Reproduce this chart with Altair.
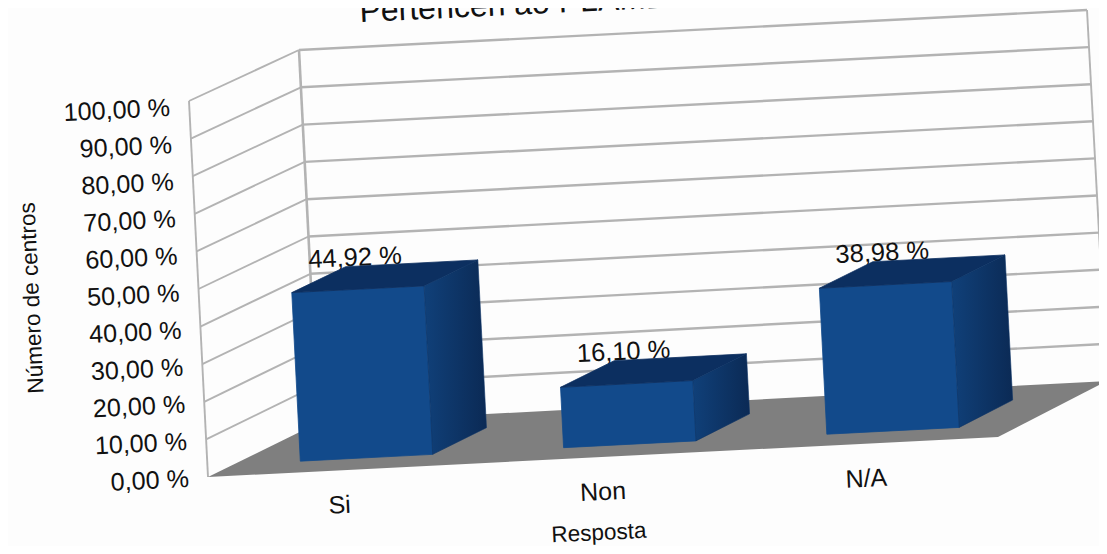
import altair as alt

categories = ["Si", "Non", "N/A"]
values = [44.92, 16.10, 38.98]
value_labels = ["44,92 %", "16,10 %", "38,98 %"]
tick_values = [0, 10, 20, 30, 40, 50, 60, 70, 80, 90, 100]
tick_labels = ["0,00 %", "10,00 %", "20,00 %", "30,00 %", "40,00 %", "50,00 %",
               "60,00 %", "70,00 %", "80,00 %", "90,00 %", "100,00 %"]
title_text = "Pertencen ao PLAMBE"
x_title = "Resposta"
y_title = "Número de centros"

# picture of the 3D box: corners as (u across, v value, d depth)
CORNERS = {
    (0, 0, 0): (208, 477), (1, 0, 0): (998, 437),
    (0, 0, 1): (318, 423), (1, 0, 1): (1107, 381),
    (0, 100, 0): (189, 101), (1, 100, 0): (979, 62),
    (0, 100, 1): (299, 50), (1, 100, 1): (1087, 10),
}
BAR_HALF = 0.0838
BAR_SHIFT = 0.002
D0, D1 = 0.23, 0.72
TILT = 357.3
W, H = 1091, 538


def P(u, v, d):
    t = v / 100
    out = [0.0, 0.0]
    for (cu, cv, cd), xy in CORNERS.items():
        w = (u if cu else 1 - u) * (t if cv else 1 - t) * (d if cd else 1 - d)
        out[0] += w * xy[0]
        out[1] += w * xy[1]
    return out


def poly(points):
    return {"type": "Feature", "properties": {},
            "geometry": {"type": "Polygon", "coordinates": [points + [points[0]]]}}


def line(points):
    return {"type": "Feature", "properties": {},
            "geometry": {"type": "LineString", "coordinates": points}}


def geo(features):
    return alt.InlineData(values={"type": "FeatureCollection", "features": features},
                          format=alt.DataFormat(type="json", property="features"))


proj = alt.Projection(type="identity", scale=1, translate=[-8, -8])


def shape(features, **mark):
    return alt.Chart(geo(features)).mark_geoshape(**mark).project(**proj.to_dict())


fronts, tops, sides = [], [], []
for i, v in enumerate(values):
    c = (i + 0.5) / 3 + BAR_SHIFT
    a, b = c - BAR_HALF, c + BAR_HALF
    fronts.append(poly([P(a, 0, D0), P(b, 0, D0), P(b, v, D0), P(a, v, D0)]))
    tops.append(poly([P(a, v, D0), P(b, v, D0), P(b, v, D1), P(a, v, D1)]))
    sides.append(poly([P(b, 0, D0), P(b, 0, D1), P(b, v, D1), P(b, v, D0)]))

left_grid = [line([P(0, t, 0), P(0, t, 1)]) for t in tick_values[1:]]
back_grid = [line([P(0, t, 1), P(1, t, 1)]) for t in tick_values[1:]]
edges = [line([P(0, 0, 0), P(0, 100, 0)]), line([P(1, 0, 1), P(1, 100, 1)])]
back_edge = [line([P(0, 0, 1), P(0, 100, 1)])]

GRID = "#b3b3b3"
layers = [
    shape(left_grid, filled=False, stroke=GRID, strokeWidth=1.9),
    shape(back_grid, filled=False, stroke=GRID, strokeWidth=2.4),
    shape(edges, filled=False, stroke=GRID, strokeWidth=1.9),
    shape(back_edge, filled=False, stroke=GRID, strokeWidth=2.6),
    shape([poly([P(0, 0, 0), P(1, 0, 0), P(1, 0, 1), P(0, 0, 1)])], fill="#7f7f7f", stroke=None),
]

X = alt.X("x:Q", scale=alt.Scale(domain=[8, 8 + W], range=[0, W]), axis=None)
Y = alt.Y("y:Q", scale=alt.Scale(domain=[8, 8 + H], range=[0, H]), axis=None)


def text(rows, angle, size, align="center", baseline="middle"):
    return alt.Chart(alt.Data(values=rows)).mark_text(
        angle=angle, fontSize=size, font="Liberation Sans", color="#111111",
        align=align, baseline=baseline).encode(x=X, y=Y, text="t:N")


def at(pt, t, dx=0, dy=0):
    return {"x": pt[0] + dx, "y": pt[1] + dy, "t": t}


# data labels sit behind the bars
bar_label_rows = [at(P((i + 0.5) / 3 - BAR_HALF, v, D1), value_labels[i], 11, -9)
                  for i, v in enumerate(values)]
layers.append(text(bar_label_rows, TILT, 25.5))

layers += [
    shape(fronts, fill="#124a8b", stroke="#124a8b", strokeWidth=0.8),
    shape(tops, fill="#0c2f60", stroke="#0c2f60", strokeWidth=0.8),
    shape(sides, fill={"gradient": "linear", "x1": 0, "x2": 1, "y1": 0, "y2": 0,
                       "stops": [{"offset": 0, "color": "#104079"},
                                 {"offset": 1, "color": "#0b2a55"}]},
          stroke="#0c3264", strokeWidth=0.6),
]

tick_rows = [at(P(0, t, 0), tick_labels[i], -19, 2 + 0.05 * t) for i, t in enumerate(tick_values)]
layers.append(text(tick_rows, TILT, 25.2, align="right"))
cat_rows = [at(P((i + 0.5) / 3, 0, 0), c, 0, 35) for i, c in enumerate(categories)]
layers.append(text(cat_rows, TILT, 25))
layers.append(text([{"x": 599, "y": 533, "t": x_title}], TILT, 22.5))
layers.append(text([{"x": 32, "y": 298, "t": y_title}], 267.3, 22.5))
layers.append(text([{"x": 360, "y": 22, "t": title_text}], TILT, 32, align="left", baseline="alphabetic"))

chart = alt.layer(*layers).properties(
    width=W, height=H, padding=0, background="#fdfdfd",
    autosize=alt.AutoSizeParams(type="none"),
).configure_view(stroke=None)

chart.save("out.html", embed_options={"renderer": "svg", "actions": False})
